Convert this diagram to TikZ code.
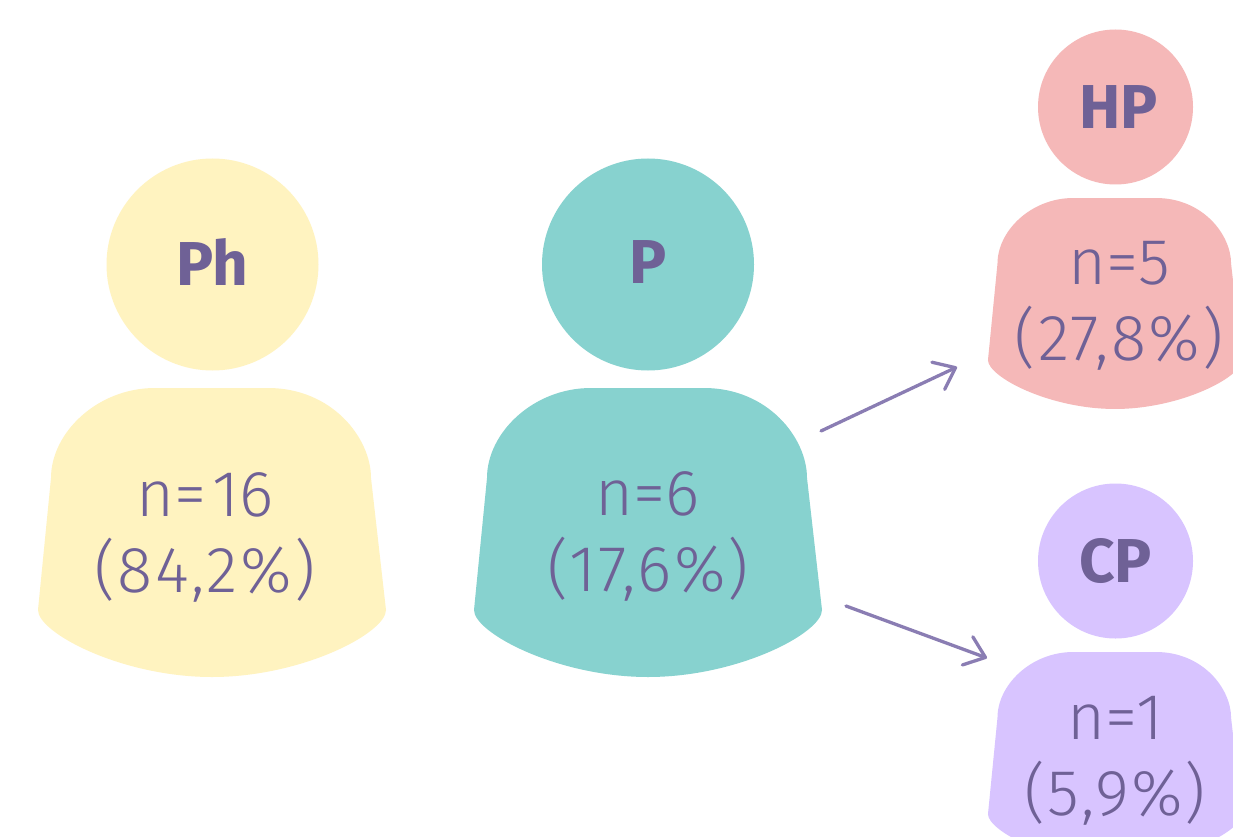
\documentclass[tikz,border=0pt]{standalone}
\usepackage{fontspec}
\setmainfont{Fira Sans Light}[BoldFont={Fira Sans Bold}]
\usetikzlibrary{arrows.meta}
\definecolor{ink}{HTML}{6F6196}
\definecolor{arrowc}{HTML}{8A7DB3}
\definecolor{cyel}{HTML}{FFF3C0}
\definecolor{cteal}{HTML}{87D2CF}
\definecolor{cpink}{HTML}{F5B8B8}
\definecolor{cpurp}{HTML}{D8C4FF}
\newcommand{\wide}[1]{{\addfontfeature{LetterSpace=3.5}#1}}
\tikzset{
  head/.style={circle,inner sep=0pt,text=ink,font=\fontsize{62}{62}\selectfont\bfseries},
  bodytext/.style={text=ink,align=center,inner sep=0pt,font=\fontsize{65}{76}\selectfont},
  flow/.style={draw=arrowc,line width=3.3pt,line cap=round,-{Straight Barb[length=19pt,width=30pt,line width=3.3pt,round]}}
}
\newcommand{\torso}[4]{%
  \fill[#4,shift={(#1,#2)},scale=#3]
    (-57,0) -- (56,0) .. controls (120,0) and (159,50) .. (159,90)
    -- (174,222) .. controls (174,245) and (90,289) .. (0,289)
    .. controls (-90,289) and (-174,245) .. (-174,222)
    -- (-161,90) .. controls (-161,45) and (-115,0) .. (-57,0) -- cycle;}
\begin{document}
\begin{tikzpicture}[x=1pt,y=-1pt]
\useasboundingbox (0,0) rectangle (1233,837);
\clip (0,0) rectangle (1233,837);
\fill[white] (0,0) rectangle (1233,837);
\torso{212}{388}{1}{cyel}
\torso{648}{388}{1}{cteal}
\torso{1115}{198}{0.73}{cpink}
\torso{1115}{652}{0.73}{cpurp}
\node[head,fill=cyel,minimum size=212pt] (ph) at (212.5,264.5) {\raisebox{4pt}{Ph}};
\node[head,fill=cteal,minimum size=212pt] (p) at (648,264.5) {\raisebox{4pt}{P}};
\node[head,fill=cpink,minimum size=155pt] (hp) at (1115.5,107) {\hspace{6pt}HP};
\node[head,fill=cpurp,minimum size=155pt] (cp) at (1115.5,561) {CP};
\node[bodytext] (tph) at (205,537) {{\spaceskip=6pt n= 16}\\\wide{(84,2\%)}};
\node[bodytext] (tp) at (648,536) {n=6\\\wide{(17,6\%)}};
\node[bodytext] (thp) at (1119,306) {n=5\\\wide{(27,8\%)}};
\node[bodytext] (tcp) at (1115,761) {n=1\\\wide{(5,9\%)}};
\coordinate (a1) at (821,431);
\coordinate (a2) at (957,367);
\coordinate (b1) at (846,606);
\coordinate (b2) at (987,658);
\draw[flow] (a1) -- (a2);
\draw[flow] (b1) -- (b2);
\end{tikzpicture}
\end{document}
